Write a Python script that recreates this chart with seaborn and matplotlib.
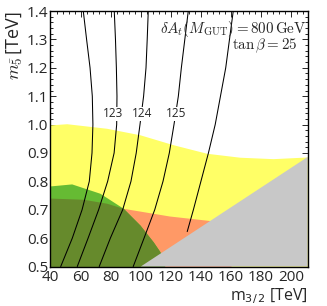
import seaborn as sns
import matplotlib.pyplot as plt
from matplotlib.ticker import MultipleLocator

sns.set_style('ticks')
plt.rcParams['font.family'] = ['Open Sans', 'DejaVu Sans']
plt.rcParams['mathtext.fontset'] = 'cm'

# -----------------------------
# Data
# -----------------------------

# allowed-region boundaries (m_3/2 in TeV, m_5bar in TeV)
yellow_x = [40, 50.8, 77.3, 99.5, 121.6, 143.8, 165.9, 188.0, 211]
yellow_y = [0.999, 1.003, 0.987, 0.964, 0.929, 0.899, 0.885, 0.880, 0.886]

orange_x = [40, 61.8, 77.3, 88.4, 119.0, 146.0, 160.0]
orange_y = [0.741, 0.737, 0.723, 0.705, 0.678, 0.662, 0.655]

green_x = [40, 54.1, 72.9, 88.4, 99.5, 108.3, 112.8, 116.0]
green_y = [0.784, 0.791, 0.758, 0.705, 0.646, 0.587, 0.552, 0.50]

olive_x = [40, 61.8, 77.3, 88.4, 99.5, 108.3, 112.8, 116.0]
olive_y = [0.741, 0.737, 0.723, 0.705, 0.646, 0.587, 0.552, 0.50]

gray_x = [100.0, 211.0, 211.0]
gray_y = [0.50, 0.886, 0.50]

# Higgs mass contours (GeV): m_3/2 position at each m_5bar level
contour_y = [1.4, 1.3, 1.2, 1.1, 1.0, 0.9, 0.8, 0.7, 0.6, 0.5]
line_a_x = [61.8, 64.0, 66.3, 67.8, 68.2, 67.6, 65.8, 61.0, 54.5, 46.8]
line_123_x = [82.4, 83.2, 83.8, 84.2, 84.0, 82.3, 78.0, 72.0, 65.0, 57.8]
line_124_x = [105.0, 104.3, 103.5, 101.9, 99.5, 97.0, 93.5, 88.0, 79.8, 72.4]
line_125_x = [131.6, 129.3, 127.0, 125.0, 122.1, 119.0, 114.8, 109.3, 102.2, 95.0]

line_e_x = [161.5, 159.0, 156.5, 153.0, 149.5, 145.0, 140.0, 135.0, 130.9]
line_e_y = [1.4, 1.3, 1.2, 1.1, 1.0, 0.9, 0.8, 0.7, 0.623]

contour_labels = ['123', '124', '125']
label_x = [81.5, 101.0, 123.4]
label_y = [1.038, 1.038, 1.038]

# -----------------------------
# Plot
# -----------------------------

fig = plt.figure(figsize=(3.27, 3.06), dpi=100)
ax = fig.add_axes([0.1544, 0.129, 0.7866, 0.835])

ax.fill_between(yellow_x, 0.5, yellow_y, color='#ffff66', lw=0)
ax.fill_between(orange_x, 0.5, orange_y, color='#ff9966', lw=0)
ax.fill_between(green_x, 0.5, green_y, color='#66bb33', lw=0)
ax.fill_between(olive_x, 0.5, olive_y, color='#668a2c', lw=0)
ax.fill(gray_x, gray_y, color='#c8c8c8', lw=0)

for xs, ys in [(line_a_x, contour_y), (line_123_x, contour_y),
               (line_124_x, contour_y), (line_125_x, contour_y),
               (line_e_x, line_e_y)]:
    sns.lineplot(x=xs, y=ys, sort=False, estimator=None, color='black',
                 lw=0.75, ax=ax)

for txt, lx, ly in zip(contour_labels, label_x, label_y):
    ax.text(lx, ly, txt, fontsize=8.5, ha='center', va='center',
            bbox=dict(facecolor='white', edgecolor='none', pad=0.5))

ax.text(0.995, 0.93, r'$\delta A_t(M_{\rm GUT}) = 800\,{\rm GeV}$',
        transform=ax.transAxes, ha='right', va='center', fontsize=10.8)
ax.text(0.962, 0.862, r'$\tan\beta = 25$',
        transform=ax.transAxes, ha='right', va='center', fontsize=10.8)

ax.set_xlim(40, 211)
ax.set_ylim(0.5, 1.4)
ax.xaxis.set_major_locator(MultipleLocator(20))
ax.xaxis.set_minor_locator(MultipleLocator(4))
ax.yaxis.set_major_locator(MultipleLocator(0.1))
ax.yaxis.set_minor_locator(MultipleLocator(0.02))
ax.yaxis.set_major_formatter(plt.FuncFormatter(lambda v, p: f'{v:.1f}'))

ax.tick_params(which='both', direction='in', top=True, right=True,
               labelsize=11, width=0.7)
ax.tick_params(axis='x', pad=2.5)
ax.tick_params(axis='y', pad=1.5)
ax.tick_params(which='major', length=4)
ax.tick_params(which='minor', length=2)
for s in ax.spines.values():
    s.set_linewidth(1.0)
    s.set_color('black')

ax.set_xlabel(r'm$_{3/\,2}$ [TeV]', loc='right', fontsize=11.5,
              labelpad=1, math_fontfamily='dejavusans')
ax.set_ylabel(r'$m_{\bar{5}}\,$[TeV]', loc='top', fontsize=13, labelpad=2)

fig.savefig('out.png', dpi=100)
